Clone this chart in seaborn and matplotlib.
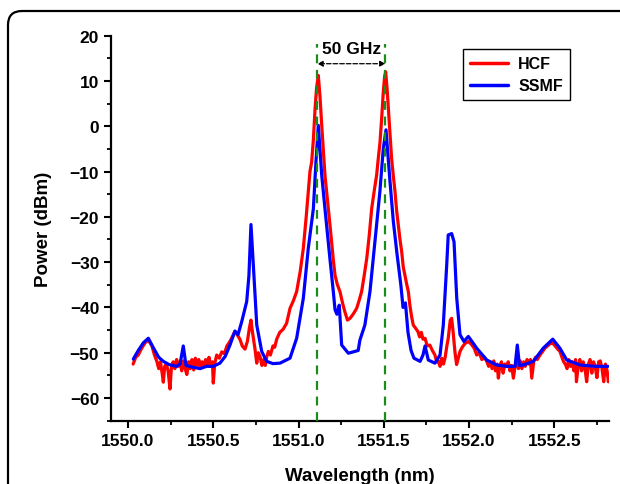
import numpy as np
import pandas as pd
import matplotlib
matplotlib.use("Agg")
import matplotlib.pyplot as plt
import seaborn as sns
from matplotlib.patches import FancyBboxPatch
from matplotlib.transforms import IdentityTransform
from matplotlib.ticker import MultipleLocator, FormatStrFormatter

# SSMF trace (wavelength nm, power dBm)
ssmf_wl = [1550.031, 1550.06, 1550.09, 1550.119, 1550.15, 1550.18, 1550.207, 1550.24, 1550.285,
           1550.305, 1550.324, 1550.34, 1550.38, 1550.422, 1550.461, 1550.5, 1550.539, 1550.57,
           1550.598, 1550.627, 1550.645, 1550.667, 1550.696, 1550.709, 1550.721, 1550.735,
           1550.755, 1550.784, 1550.813, 1550.85, 1550.891, 1550.95, 1550.989, 1551.028,
           1551.057, 1551.087, 1551.102, 1551.116, 1551.136, 1551.155, 1551.184, 1551.204,
           1551.214, 1551.225, 1551.239, 1551.253, 1551.292, 1551.331, 1551.35, 1551.36,
           1551.389, 1551.419, 1551.448, 1551.477, 1551.497, 1551.513, 1551.536, 1551.556,
           1551.577, 1551.60, 1551.613, 1551.627, 1551.642, 1551.66, 1551.677, 1551.713,
           1551.73, 1551.742, 1551.761, 1551.80, 1551.83, 1551.849, 1551.869, 1551.878,
           1551.898, 1551.912, 1551.928, 1551.947, 1551.97, 1551.996, 1552.017, 1552.045,
           1552.104, 1552.162, 1552.221, 1552.27, 1552.283, 1552.296, 1552.318, 1552.377,
           1552.435, 1552.491, 1552.533, 1552.573, 1552.651, 1552.74, 1552.815]
ssmf_db = [-51.4, -49.5, -47.8, -46.8, -49.0, -51.0, -51.9, -52.6, -53.0,
           -52.5, -48.5, -52.8, -53.2, -53.5, -53.0, -53.0, -52.3, -50.8,
           -48.3, -45.2, -46.0, -43.1, -38.7, -33.0, -21.7, -30.7,
           -43.9, -49.7, -51.9, -52.4, -52.3, -51.2, -46.8, -38.0,
           -27.0, -18.2, -8.0, 0.2, -10.8, -18.2, -29.2, -36.5,
           -40.5, -41.5, -39.5, -48.3, -50.1, -49.7, -49.5, -47.2,
           -43.9, -36.5, -25.5, -14.5, -5.0, -0.8, -12.0, -21.0,
           -28.0, -35.0, -40.0, -39.0, -45.5, -49.5, -51.2, -51.9,
           -50.5, -48.5, -51.6, -52.3, -50.5, -43.9, -30.7, -24.0,
           -23.7, -25.5, -38.0, -46.0, -47.5, -46.4, -47.5, -49.0,
           -51.6, -52.7, -53.0, -53.0, -48.3, -52.8, -52.7, -51.9,
           -49.0, -47.0, -49.0, -51.6, -52.7, -53.0, -53.0]

# HCF trace (wavelength nm, power dBm)
hcf_wl = [1550.03, 1550.045, 1550.06, 1550.08, 1550.10, 1550.12, 1550.14, 1550.155, 1550.17,
          1550.18, 1550.19, 1550.2, 1550.207, 1550.215, 1550.225, 1550.235, 1550.246, 1550.255,
          1550.265, 1550.275, 1550.285, 1550.295, 1550.305, 1550.315, 1550.325, 1550.335,
          1550.345, 1550.355, 1550.365, 1550.375, 1550.385, 1550.395, 1550.405, 1550.415,
          1550.425, 1550.435, 1550.445, 1550.455, 1550.465, 1550.475, 1550.485, 1550.495,
          1550.50, 1550.508, 1550.52, 1550.535, 1550.55, 1550.565, 1550.58, 1550.598,
          1550.615, 1550.627, 1550.64, 1550.656, 1550.67, 1550.686, 1550.70, 1550.712,
          1550.721, 1550.73, 1550.744, 1550.755, 1550.764, 1550.774, 1550.785, 1550.795,
          1550.805, 1550.813, 1550.823, 1550.835, 1550.85, 1550.86, 1550.872, 1550.89,
          1550.91, 1550.93, 1550.95, 1550.97, 1550.989, 1551.01, 1551.028, 1551.045,
          1551.057, 1551.067, 1551.077, 1551.087, 1551.097, 1551.106, 1551.116, 1551.126,
          1551.136, 1551.145, 1551.155, 1551.165, 1551.175, 1551.185, 1551.194, 1551.204,
          1551.214, 1551.228, 1551.243, 1551.258, 1551.272, 1551.287, 1551.302, 1551.32,
          1551.341, 1551.355, 1551.37, 1551.385, 1551.40, 1551.415, 1551.429, 1551.445,
          1551.458, 1551.468, 1551.478, 1551.488, 1551.497, 1551.505, 1551.511, 1551.519,
          1551.527, 1551.536, 1551.546, 1551.556, 1551.566, 1551.575, 1551.585, 1551.595,
          1551.605, 1551.614, 1551.624, 1551.634, 1551.644, 1551.653, 1551.663, 1551.673,
          1551.685, 1551.70, 1551.71, 1551.72, 1551.73, 1551.742, 1551.755, 1551.77,
          1551.785, 1551.80, 1551.81, 1551.82, 1551.83, 1551.84, 1551.85, 1551.86,
          1551.87, 1551.878, 1551.89, 1551.898, 1551.907, 1551.917, 1551.927, 1551.937,
          1551.947, 1551.96, 1551.975, 1551.996, 1552.015, 1552.03, 1552.045, 1552.06,
          1552.075, 1552.09, 1552.104, 1552.115, 1552.125, 1552.135, 1552.145, 1552.155,
          1552.165, 1552.172, 1552.18, 1552.19, 1552.20, 1552.21, 1552.22, 1552.23,
          1552.24, 1552.25, 1552.26, 1552.27, 1552.28, 1552.29, 1552.30, 1552.31,
          1552.32, 1552.33, 1552.34, 1552.35, 1552.36, 1552.368, 1552.38, 1552.39,
          1552.40, 1552.416, 1552.43, 1552.445, 1552.46, 1552.475, 1552.491, 1552.505,
          1552.52, 1552.533, 1552.545, 1552.555, 1552.566, 1552.575, 1552.585, 1552.595,
          1552.605, 1552.615, 1552.625, 1552.63, 1552.64, 1552.65, 1552.66, 1552.67,
          1552.68, 1552.69, 1552.70, 1552.71, 1552.72, 1552.73, 1552.74, 1552.75,
          1552.76, 1552.77, 1552.78, 1552.79, 1552.80, 1552.81, 1552.817]
hcf_db = [-52.5, -51.0, -50.5, -49.0, -47.8, -47.2, -48.5, -50.5, -52.0,
          -53.5, -52.0, -54.5, -56.5, -53.0, -52.5, -54.0, -58.0, -53.0,
          -52.0, -53.5, -51.5, -53.0, -52.0, -54.0, -51.8, -53.5,
          -54.8, -52.0, -53.5, -51.5, -53.8, -51.2, -52.8, -51.5,
          -53.5, -52.0, -53.0, -51.5, -52.5, -51.0, -53.0, -52.0,
          -56.7, -52.5, -50.5, -51.2, -49.8, -50.2, -48.5, -47.5,
          -46.2, -45.3, -46.0, -47.0, -48.5, -49.2, -47.5, -44.5,
          -42.8, -45.5, -49.0, -52.3, -50.0, -50.8, -52.8, -51.5,
          -52.8, -51.0, -49.7, -50.5, -48.5, -48.8, -47.0, -45.5,
          -44.8, -43.5, -40.2, -38.5, -36.5, -32.0, -27.0, -20.0,
          -14.5, -10.0, -7.9, -3.0, 3.9, 8.5, 11.2, 6.5,
          0.2, -5.0, -10.8, -14.5, -18.2, -22.0, -25.5, -29.5,
          -32.9, -35.0, -36.5, -39.0, -41.0, -42.8, -42.4, -41.5,
          -40.2, -38.5, -36.5, -33.0, -29.2, -24.0, -18.2, -14.0,
          -10.8, -7.0, -3.5, 2.0, 7.5, 11.0, 12.0, 8.5,
          3.9, -1.5, -7.2, -11.0, -14.5, -18.5, -21.8, -25.0,
          -27.7, -31.0, -32.9, -34.8, -36.5, -39.5, -42.0, -43.9,
          -44.5, -45.3, -46.5, -45.5, -47.0, -46.8, -48.5, -48.3,
          -49.5, -50.5, -52.0, -51.9, -53.0, -51.2, -52.5, -51.0,
          -48.5, -46.8, -42.8, -42.4, -45.5, -49.7, -52.6, -51.2,
          -49.7, -48.8, -48.0, -47.5, -48.2, -49.0, -50.5, -50.0,
          -51.5, -51.0, -51.9, -53.0, -52.0, -53.5, -51.8, -54.0,
          -52.5, -55.6, -53.0, -52.0, -54.5, -52.5, -53.0, -52.0,
          -54.0, -52.8, -55.6, -53.0, -52.0, -53.5, -51.8, -53.5,
          -52.0, -53.0, -51.5, -52.5, -51.5, -55.6, -51.8, -51.0,
          -51.5, -50.5, -49.8, -49.0, -48.5, -48.0, -47.9, -48.5,
          -49.2, -49.7, -51.0, -52.0, -52.6, -53.5, -51.5, -53.0,
          -52.0, -54.0, -51.5, -56.4, -53.0, -51.5, -54.0, -52.0,
          -53.5, -56.4, -52.5, -51.5, -54.5, -52.0, -53.0, -55.5,
          -52.0, -51.8, -53.5, -56.4, -52.5, -54.0, -56.4]

channels = [1551.11, 1551.51]  # the two carriers, 50 GHz apart

sns.set_style("ticks")
plt.rcParams['font.family'] = ['Liberation Sans', 'DejaVu Sans']
plt.rcParams['font.weight'] = 'bold'
plt.rcParams['axes.labelweight'] = 'bold'
for k in ['text.color', 'axes.labelcolor', 'xtick.color', 'ytick.color', 'axes.edgecolor']:
    plt.rcParams[k] = 'black'

fig = plt.figure(figsize=(6.2, 4.85), dpi=100)
ax = fig.add_axes([0.179, 0.1305, 0.803, 0.794])

hcf = pd.DataFrame({'wl': hcf_wl, 'p': hcf_db})
ssmf = pd.DataFrame({'wl': ssmf_wl, 'p': ssmf_db})
sns.lineplot(data=hcf, x='wl', y='p', color='#ff0000', lw=2.3, ax=ax, label='HCF')
sns.lineplot(data=ssmf, x='wl', y='p', color='#0000ff', lw=2.3, ax=ax, label='SSMF')

# channel markers
for c in channels:
    ax.plot([c, c], [-65, 18.2], color='#1a8c1a', lw=1.6, ls=(0, (4, 3)), zorder=5)
ax.annotate('', xy=(channels[0], 13.8), xytext=(channels[1], 13.8),
            arrowprops=dict(arrowstyle='<|-|>', color='k', lw=0.9, ls='--',
                            mutation_scale=8, shrinkA=0, shrinkB=0))
ax.text(sum(channels) / 2, 17.2, '50 GHz', ha='center', va='center',
        fontsize=12.5, fontweight='bold')

ax.set_xlim(1549.9, 1552.82)
ax.set_ylim(-65, 20)
ax.xaxis.set_major_locator(MultipleLocator(0.5))
ax.xaxis.set_minor_locator(MultipleLocator(0.25))
ax.xaxis.set_major_formatter(FormatStrFormatter('%.1f'))
ax.yaxis.set_major_locator(MultipleLocator(10))
ax.yaxis.set_minor_locator(MultipleLocator(5))
ax.tick_params(which='major', direction='out', length=5, width=1.5, labelsize=12.5)
ax.tick_params(which='minor', direction='out', length=3, width=1.3)
for lab in ax.get_xticklabels() + ax.get_yticklabels():
    lab.set_fontweight('bold')
sns.despine(ax=ax)
for s in ['left', 'bottom']:
    ax.spines[s].set_linewidth(1.6)
    ax.spines[s].set_color('k')

ax.set_xlabel('Wavelength (nm)', fontsize=13.5, fontweight='bold', labelpad=14)
ax.set_ylabel('Power (dBm)', fontsize=13.5, fontweight='bold', labelpad=13)

leg = ax.legend(loc='upper left', bbox_to_anchor=(0.707, 0.9655), borderaxespad=0,
                fancybox=False, edgecolor='k', framealpha=1,
                handlelength=2.4, handletextpad=0.6, borderpad=0.45, labelspacing=0.45,
                prop={'weight': 'bold', 'size': 11.5})
leg.get_frame().set_linewidth(1.0)
for line in leg.get_lines():
    line.set_linewidth(2.5)

# rounded frame around the panel (cut off on right and bottom)
frame = FancyBboxPatch((8, -60), 720, 485 - 12 + 60,
                       boxstyle='round,pad=0,rounding_size=14',
                       transform=IdentityTransform(), fill=False,
                       edgecolor='k', lw=1.6)
fig.add_artist(frame)

fig.savefig('out.png', dpi=100)
